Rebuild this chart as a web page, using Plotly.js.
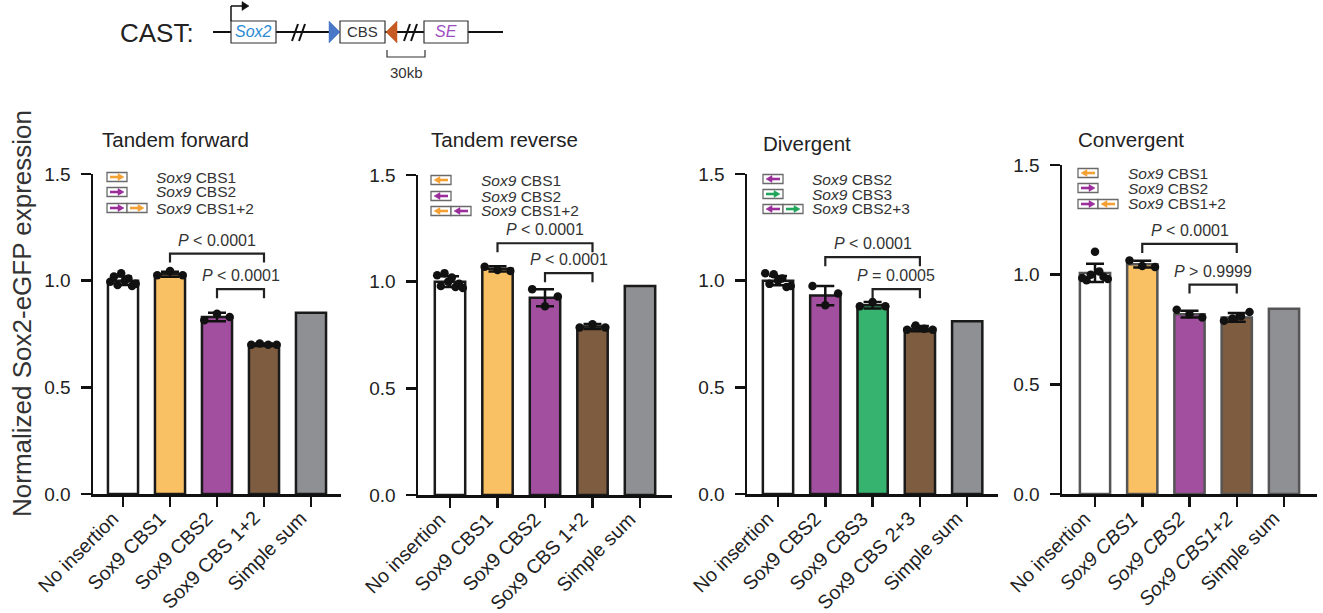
<!DOCTYPE html>
<html><head><meta charset="utf-8">
<script src="https://cdn.plot.ly/plotly-3.0.1.min.js"></script>
<style>html,body{margin:0;padding:0;background:#fff}#chart{width:1323px;height:613px}</style>
</head><body><div id="chart"></div>
<script>
// ---------------- DATA ----------------
const panelTitles = ["Tandem forward", "Tandem reverse", "Divergent", "Convergent"];
const yTickVals = [0, 0.5, 1.0, 1.5];
const yTickText = ["0.0", "0.5", "1.0", "1.5"];
const yAxisTitle = "Normalized Sox2-eGFP expression";

const tfCategories = ["No insertion", "Sox9 CBS1", "Sox9 CBS2", "Sox9 CBS 1+2", "Simple sum"];
const tfMeans = [1.00, 1.03, 0.83, 0.70, 0.85];
const tfSD = [0.02, 0.012, 0.02, 0.006];
const tfPoints = [
  [0.995, 1.02, 0.98, 1.035, 1.0, 1.01, 0.975, 0.985],
  [1.025, 1.045, 1.025],
  [0.815, 0.845, 0.83],
  [0.70, 0.705, 0.70, 0.70]
];

const trCategories = ["No insertion", "Sox9 CBS1", "Sox9 CBS2", "Sox9 CBS 1+2", "Simple sum"];
const trMeans = [1.00, 1.06, 0.925, 0.79, 0.98];
const trSD = [0.025, 0.012, 0.04, 0.012];
const trPoints = [
  [1.03, 0.98, 1.04, 1.0, 1.02, 0.975, 0.99, 0.97],
  [1.07, 1.055, 1.05],
  [0.965, 0.885, 0.93],
  [0.785, 0.80, 0.785]
];

const dvCategories = ["No insertion", "Sox9 CBS2", "Sox9 CBS3", "Sox9 CBS 2+3", "Simple sum"];
const dvMeans = [1.00, 0.93, 0.885, 0.775, 0.81];
const dvSD = [0.022, 0.045, 0.015, 0.012];
const dvPoints = [
  [1.035, 0.985, 1.03, 1.0, 1.01, 0.97, 0.975],
  [0.975, 0.885, 0.94],
  [0.88, 0.90, 0.88],
  [0.77, 0.79, 0.775, 0.77]
];

const cvCategories = ["No insertion", "<i>Sox9 CBS1</i>", "<i>Sox9 CBS2</i>", "<i>Sox9 CBS1+2</i>", "Simple sum"];
const cvMeans = [1.008, 1.048, 0.82, 0.805, 0.845];
const cvSD = [0.042, 0.015, 0.015, 0.02];
const cvPoints = [
  [0.985, 0.975, 1.0, 1.105, 1.015, 0.99, 0.98],
  [1.065, 1.04, 1.035],
  [0.84, 0.82, 0.805],
  [0.79, 0.80, 0.81, 0.83]
];

// brackets: [fromCat, toCat, level, label]
const tfBrackets = [[1, 3, 1.127, "<i>P</i> &lt; 0.0001"], [2, 3, 0.96, "<i>P</i> &lt; 0.0001"]];
const trBrackets = [[1, 3, 1.18, "<i>P</i> &lt; 0.0001"], [2, 3, 1.04, "<i>P</i> &lt; 0.0001"]];
const dvBrackets = [[1, 3, 1.11, "<i>P</i> &lt; 0.0001"], [2, 3, 0.96, "<i>P</i> = 0.0005"]];
const cvBrackets = [[1, 3, 1.14, "<i>P</i> &lt; 0.0001"], [2, 3, 0.955, "<i>P</i> &gt; 0.9999"]];

// legend entries: [label, arrows[[colorKey, direction]]]
const tfLegend = [["CBS1", [["o", "r"]]], ["CBS2", [["p", "r"]]], ["CBS1+2", [["p", "r"], ["o", "r"]]]];
const trLegend = [["CBS1", [["o", "l"]]], ["CBS2", [["p", "l"]]], ["CBS1+2", [["o", "l"], ["p", "l"]]]];
const dvLegend = [["CBS2", [["p", "l"]]], ["CBS3", [["g", "r"]]], ["CBS2+3", [["p", "l"], ["g", "r"]]]];
const cvLegend = [["CBS1", [["o", "l"]]], ["CBS2", [["p", "r"]]], ["CBS1+2", [["p", "r"], ["o", "l"]]]];

// ---------------- STYLE ----------------
const W = 1323, H = 613;
const FONT = "Liberation Sans, Arial, sans-serif";
const C = {white: "#FFFFFF", orange: "#F9C064", purple: "#A34FA0", brown: "#7D5C40", gray: "#8F9094", green: "#36B46F"};
const ARROW = {o: "#F5A033", p: "#9A2E9B", g: "#1FA65A"};
const px = x => x / W;
const py = y => 1 - y / H;

const panels = [
  {cats: tfCategories, means: tfMeans, sd: tfSD, pts: tfPoints, br: tfBrackets, leg: tfLegend,
   colors: [C.white, C.orange, C.purple, C.brown, C.gray], outline: "#1a1a1a",
   l: 93, r: 341, b: 494, t: 174, c0: 123, sp: 47, titleX: 100, titleY: 139,
   boxX: 107, textX: 155, rows: [177, 192, 208], ppu: 213.3},
  {cats: trCategories, means: trMeans, sd: trSD, pts: trPoints, br: trBrackets, leg: trLegend,
   colors: [C.white, C.orange, C.purple, C.brown, C.gray], outline: "#1a1a1a",
   l: 418, r: 672, b: 495, t: 175, c0: 450, sp: 47.5, titleX: 429, titleY: 140,
   boxX: 431, textX: 480, rows: [180, 196, 211], ppu: 213.3},
  {cats: dvCategories, means: dvMeans, sd: dvSD, pts: dvPoints, br: dvBrackets, leg: dvLegend,
   colors: [C.white, C.purple, C.green, C.brown, C.gray], outline: "#1a1a1a",
   l: 747, r: 998, b: 494, t: 174, c0: 778, sp: 47.3, titleX: 761, titleY: 143,
   boxX: 763, textX: 811, rows: [179, 194, 209], ppu: 213.3},
  {cats: cvCategories, means: cvMeans, sd: cvSD, pts: cvPoints, br: cvBrackets, leg: cvLegend,
   colors: [C.white, C.orange, C.purple, C.brown, C.gray], outline: "#555555",
   l: 1062, r: 1317, b: 494, t: 165, c0: 1095, sp: 47.25, titleX: 1076, titleY: 140,
   boxX: 1078, textX: 1127, rows: [173, 188, 204], ppu: 219.3}
];

const data = [];
const layout = {
  width: W, height: H, margin: {l: 0, r: 0, t: 0, b: 0},
  paper_bgcolor: "#fff", plot_bgcolor: "rgba(0,0,0,0)", showlegend: false,
  font: {family: FONT, color: "#222"}, annotations: [], shapes: []
};

panels.forEach((P, i) => {
  const sx = i === 0 ? "" : String(i + 1);
  const xr = "x" + sx, yr = "y" + sx;
  const idx = P.cats.map((_, k) => k);
  data.push({type: "bar", x: idx, y: P.means, xaxis: xr, yaxis: yr, width: 0.64,
    marker: {color: P.colors, line: {color: P.outline, width: 2.5}}, hoverinfo: "skip"});
  const nE = P.sd.length;
  data.push({type: "scatter", mode: "markers", x: idx.slice(0, nE), y: P.means.slice(0, nE),
    xaxis: xr, yaxis: yr, marker: {size: 1, opacity: 0},
    error_y: {type: "data", array: P.sd, visible: true, color: "#111", thickness: 2.5, width: 9}, hoverinfo: "skip"});
  const xs = [], ys = [];
  P.pts.forEach((arr, j) => {
    const n = arr.length, spread = 0.27;
    arr.forEach((v, k) => {
      xs.push(j + (n > 1 ? -spread + 2 * spread * k / (n - 1) : 0));
      ys.push(v);
    });
  });
  data.push({type: "scatter", mode: "markers", x: xs, y: ys, xaxis: xr, yaxis: yr,
    marker: {size: 8.5, color: "#111"}, hoverinfo: "skip"});

  layout["xaxis" + sx] = {
    domain: [px(P.l), px(P.r)], range: [(P.l - P.c0) / P.sp, (P.r - P.c0) / P.sp],
    anchor: yr, tickmode: "array", tickvals: idx, ticktext: P.cats, showticklabels: false,
    ticks: "outside", ticklen: 10, tickwidth: 2.5, tickcolor: "#111",
    showline: true, linecolor: "#111", linewidth: 2.5, showgrid: false, zeroline: false,
    fixedrange: true
  };
  layout["yaxis" + sx] = {
    domain: [py(P.b), py(P.t)], range: [0, 1.5], anchor: xr,
    tickmode: "array", tickvals: yTickVals, ticktext: yTickText,
    ticks: "outside", ticklen: 10, tickwidth: 2.5, tickcolor: "#111", ticklabelstandoff: 6,
    showline: true, linecolor: "#111", linewidth: 2.5, showgrid: false, zeroline: false,
    tickfont: {size: 19, color: "#222", family: FONT}, fixedrange: true
  };

  // rotated category labels, anchored at their top-right end just under each tick
  P.cats.forEach((c, k) => {
    layout.annotations.push({xref: xr, yref: "paper", x: k + 1 / P.sp, y: py(P.b + 12),
      xanchor: "right", yanchor: "top", textangle: -45, showarrow: false, borderpad: 0,
      text: c, font: {size: 19.5, color: "#222", family: FONT}});
  });

  // title
  layout.annotations.push({xref: "paper", yref: "paper", x: px(P.titleX), y: py(P.titleY),
    xanchor: "left", yanchor: "middle", showarrow: false, text: panelTitles[i],
    font: {size: 20.5, color: "#222", family: FONT}});

  // brackets
  const leg = 9 / P.ppu;
  P.br.forEach(([a, b, lvl, lab]) => {
    layout.shapes.push({type: "path", xref: xr, yref: yr,
      path: `M ${a},${lvl - leg} L ${a},${lvl} L ${b},${lvl} L ${b},${lvl - leg}`,
      line: {color: "#222", width: 2.2}});
    layout.annotations.push({xref: xr, yref: yr, x: (a + b) / 2, y: lvl + 3 / P.ppu,
      xanchor: "center", yanchor: "bottom", showarrow: false, text: lab,
      font: {size: 16, color: "#333", family: FONT}});
  });

  // legend
  P.leg.forEach(([lab, arrows], r) => {
    const cy = P.rows[r];
    arrows.forEach(([ck, dir], q) => {
      const x0 = P.boxX + q * 20, x1 = x0 + 20;
      layout.shapes.push({type: "rect", xref: "paper", yref: "paper",
        x0: px(x0), x1: px(x1), y0: py(cy - 4.5), y1: py(cy + 4.5),
        line: {color: "#6a6a6a", width: 1.3}, fillcolor: "#fff"});
      const col = ARROW[ck];
      const head = dir === "r" ? x1 - 3 : x0 + 3;
      const tail = dir === "r" ? x0 + 3 : x1 - 3;
      const hb = dir === "r" ? head - 6 : head + 6;
      layout.shapes.push({type: "line", xref: "paper", yref: "paper",
        x0: px(tail), x1: px(hb), y0: py(cy), y1: py(cy), line: {color: col, width: 2.6}});
      layout.shapes.push({type: "path", xref: "paper", yref: "paper",
        path: `M ${px(hb)},${py(cy - 3.5)} L ${px(head)},${py(cy)} L ${px(hb)},${py(cy + 3.5)} Z`,
        fillcolor: col, line: {color: col, width: 0.5}});
    });
    layout.annotations.push({xref: "paper", yref: "paper", x: px(P.textX), y: py(cy),
      xanchor: "left", yanchor: "middle", showarrow: false, borderpad: 0,
      text: "<i>Sox9</i> " + lab, font: {size: 15.5, color: "#333", family: FONT}});
  });
});

// y-axis title
layout.annotations.push({xref: "paper", yref: "paper", x: px(22), y: py(314),
  xanchor: "center", yanchor: "middle", textangle: -90, showarrow: false,
  text: yAxisTitle, font: {size: 26, color: "#333", family: FONT}});

// ---------------- top locus diagram ----------------
const S = layout.shapes, A = layout.annotations;
const ln = (x0, y0, x1, y1, w, c) => S.push({type: "line", xref: "paper", yref: "paper",
  x0: px(x0), y0: py(y0), x1: px(x1), y1: py(y1), line: {color: c || "#111", width: w}});
const rect = (x0, x1) => S.push({type: "rect", xref: "paper", yref: "paper",
  x0: px(x0), x1: px(x1), y0: py(43), y1: py(21), line: {color: "#333", width: 1.2}, fillcolor: "#fff"});
const poly = (pts, c) => S.push({type: "path", xref: "paper", yref: "paper",
  path: "M " + pts.map(p => px(p[0]) + "," + py(p[1])).join(" L ") + " Z", fillcolor: c, line: {color: c, width: 0.5}});
const txt = (x, y, t, size, c, anchor) => A.push({xref: "paper", yref: "paper", x: px(x), y: py(y),
  xanchor: anchor || "center", yanchor: "middle", showarrow: false, text: t, font: {size: size, color: c, family: FONT}});

ln(213, 32, 503, 32, 2);
rect(231, 276); rect(340, 385); rect(424, 468);
ln(231, 21, 231, 6, 1.5); ln(231, 6, 243, 6, 1.5);
poly([[242, 1.5], [249, 6], [242, 10.5]], "#111");
ln(292, 41, 298, 24, 2); ln(299, 41, 305, 24, 2);
ln(404, 41, 410, 24, 2); ln(411, 41, 417, 24, 2);
poly([[329, 21], [340, 32], [329, 43]], "#4A78C8");
poly([[397, 21], [386, 32], [397, 43]], "#C55A22");
S.push({type: "path", xref: "paper", yref: "paper",
  path: `M ${px(387)},${py(50)} L ${px(387)},${py(57)} L ${px(425)},${py(57)} L ${px(425)},${py(50)}`,
  line: {color: "#333", width: 1.2}});
txt(253.5, 32, "<i>Sox2</i>", 16, "#2A8BD3");
txt(362.5, 32, "CBS", 15, "#333");
txt(446, 32, "<i>SE</i>", 16, "#9C4DC0");
txt(406, 72, "30kb", 15, "#333");
txt(118, 33, "CAST:", 26, "#222", "left");

Plotly.newPlot("chart", data, layout, {staticPlot: true, displayModeBar: false});
</script>
</body></html>
